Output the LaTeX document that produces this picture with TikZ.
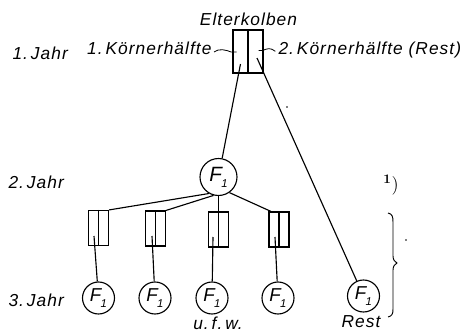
\documentclass[tikz,border=0pt]{standalone}
\usepackage{fontspec}
\newfontfamily\hand[LetterSpace=6]{Liberation Sans}
\newfontfamily\handF{Liberation Sans}
\newcommand\Fone{F\kern-0.5pt\raisebox{-0.3em}{\fontsize{8.5}{9}\selectfont 1}}
\begin{document}
\begin{tikzpicture}[x=0.75pt,y=-0.75pt,line width=0.85pt,
  lbl/.style={font=\hand\itshape\fontsize{13}{15}\selectfont,inner sep=0pt},
  kbox/.style={draw,minimum width=15pt,minimum height=26.25pt,inner sep=0pt},
  topbox/.style={draw,minimum width=22.5pt,minimum height=32.25pt,inner sep=0pt},
  fbig/.style={draw,circle,minimum size=27.75pt,inner sep=0pt,font=\handF\itshape\fontsize{15.5}{16}\selectfont},
  fsmall/.style={draw,circle,minimum size=24pt,inner sep=0pt,font=\handF\itshape\fontsize{14}{15}\selectfont},
  speck/.style={fill,circle,inner sep=0pt,minimum size=1.2pt}]
\useasboundingbox (0,0) rectangle (464,332);

% labels
\node[lbl,anchor=base] (elt) at (248.5,25) {Elterkolben};
\node[lbl,anchor=base east] (k1) at (212,54) {1.\,Körnerhälfte};
\node[lbl,anchor=base west] (k2) at (278,54) {2.\,Körnerhälfte (Rest)};
\node[lbl,anchor=base west] (j1) at (12,59) {1.\,Jahr};
\node[lbl,anchor=base west] (j2) at (8,188) {2.\,Jahr};
\node[lbl,anchor=base west] (j3) at (8,306) {3.\,Jahr};
\node[lbl,anchor=base] (ufw) at (218,329) {u.\,f.\,w.};
\node[lbl,anchor=base] (rest) at (361,327) {Rest};
\node[inner sep=0pt,anchor=base,font=\fontsize{14}{16}\selectfont] (fn) at (391,190) {\textsuperscript{\bfseries 1})};

% top box
\node[topbox] (tb) at (248,51.5) {};
\draw (tb.north) -- (tb.south);

% F1 second year
\node[fbig] (f) at (218.5,177) {\Fone};

% small boxes
\node[kbox] (b1) at (98.5,228) {};
\node[kbox] (b2) at (155.5,228.5) {};
\node[kbox] (b3) at (218.5,229.5) {};
\node[kbox] (b4) at (279,229.5) {};
\foreach \b in {b1,b2,b3,b4} \draw (\b.north) -- (\b.south);

% third-year circles
\node[fsmall] (c1) at (98.5,298) {\Fone};
\node[fsmall] (c2) at (155,298) {\Fone};
\node[fsmall] (c3) at (212,298) {\Fone};
\node[fsmall] (c4) at (278,298) {\Fone};
\node[fsmall] (c5) at (363.5,296) {\Fone};

% connectors
\coordinate (tl) at (240.5,64);
\coordinate (tr) at (257,58);
\draw (tl) -- (f);
\draw (tr) -- (c5);

\draw (f.240) -- (b1.north east);
\draw (f.255) -- (b2.north east);
\draw (f.south) -- (b3.north);
\draw (f.305) -- ([xshift=-6pt]b4.north);

\coordinate (s1) at (94,236);
\coordinate (s2) at (152,236);
\coordinate (s3) at (213,237);
\coordinate (s4) at (275,237);
\draw (s1) -- (c1);
\draw (s2) -- (c2);
\draw (s3) -- (c3);
\draw (s4) -- (c4);

% leaders
\coordinate (l1) at (236.5,52);
\coordinate (l2) at (258.5,50.5);
\draw[line width=0.6pt] (k1.base east) ++(2,-2) .. controls +(5,-4) and +(-5,-2) .. ([xshift=-4pt]l1) -- (l1);
\draw[line width=0.6pt] (l2) -- ++(4,0) .. controls +(5,-2) and +(-5,-4) .. ([xshift=-2pt,yshift=2pt]k2.base west);

% brace
\coordinate (br) at (397,263);
\draw[line width=0.7pt] (388,213) .. controls (392,214) and (393,216) .. (393,222)
  -- (393,256) .. controls (393,260) and (395,262) .. (br)
  .. controls (395,264) and (393,266) .. (393,270)
  -- (393,309) .. controls (393,314) and (392,316) .. (388,317);

% specks
\node[speck] (d1) at (287,107) {};
\node[speck] (d2) at (406,240) {};
\end{tikzpicture}
\end{document}
